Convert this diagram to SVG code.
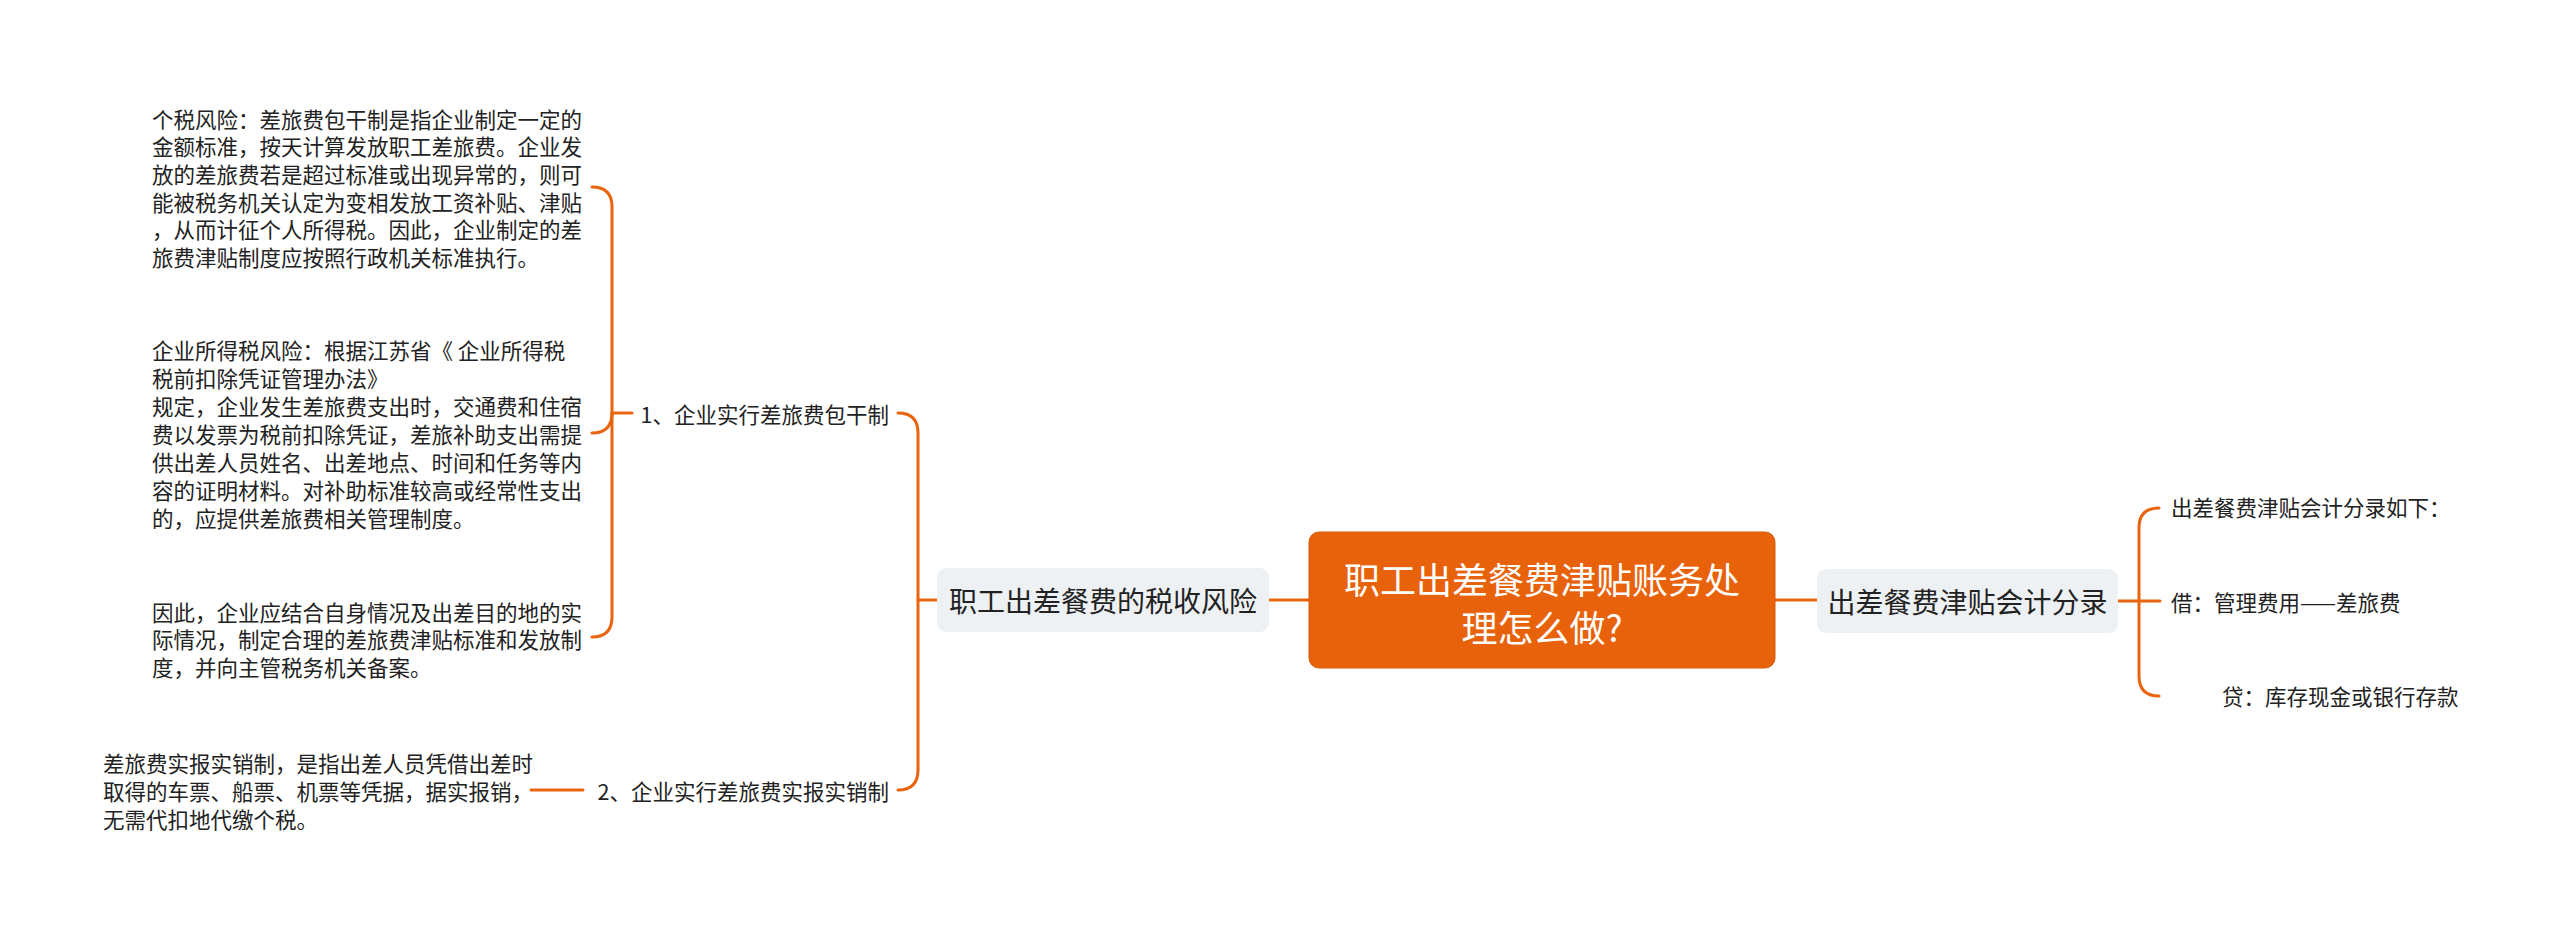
<svg xmlns="http://www.w3.org/2000/svg" width="2560" height="934" viewBox="0 0 2560 934">
<style>
.t{font-family:"Noto Sans CJK SC","Noto Sans",sans-serif;fill:#222;dominant-baseline:central}
.s{font-size:21.5px}
.m{font-size:28px}
.r{font-size:36px;fill:#fff}
.c{fill:none;stroke:#E8640E;stroke-width:3;stroke-linecap:round}
.g{fill:#EEF1F4}
</style>
<rect width="2560" height="934" fill="#fff"/>
<g id="connectors">
<path class="c" d="M1269 600H1309"/>
<path class="c" d="M1775 600H1817"/>
<path class="c" d="M937 600H918"/>
<path class="c" d="M898 413Q918 413 918 433V770Q918 790 898 790"/>
<path class="c" d="M592 187Q612 187 612 207V617Q612 637 592 637"/>
<path class="c" d="M592 433Q612 433 612 413"/>
<path class="c" d="M612 413H632"/>
<path class="c" d="M531 790H583"/>
<path class="c" d="M2118 601H2160"/>
<path class="c" d="M2159 508Q2139 508 2139 528V676Q2139 696 2159 696"/>
</g>
<g id="root">
<rect x="1309" y="532" width="466" height="136" rx="10" fill="#E8620B" stroke="#D95A08" stroke-width="1"/>
<text class="t r" x="1542" y="578" text-anchor="middle">职工出差餐费津贴账务处</text>
<text class="t r" x="1542" y="626" text-anchor="middle">理怎么做?</text>
</g>
<g id="n-left">
<rect class="g" x="937" y="568" width="332" height="64" rx="9"/>
<text class="t m" x="1103" y="600" text-anchor="middle">职工出差餐费的税收风险</text>
</g>
<g id="n-right">
<rect class="g" x="1817" y="569" width="301" height="64" rx="9"/>
<text class="t m" x="1967.5" y="601" text-anchor="middle">出差餐费津贴会计分录</text>
</g>
<g id="n-1">
<text class="t s" x="889" y="413" text-anchor="end">1、企业实行差旅费包干制</text>
</g>
<g id="n-2">
<text class="t s" x="889" y="790" text-anchor="end">2、企业实行差旅费实报实销制</text>
</g>
<g id="n-1a">
<text class="t s" x="152" y="118">个税风险：差旅费包干制是指企业制定一定的</text>
<text class="t s" x="152" y="145.7">金额标准，按天计算发放职工差旅费。企业发</text>
<text class="t s" x="152" y="173.4">放的差旅费若是超过标准或出现异常的，则可</text>
<text class="t s" x="152" y="201.1">能被税务机关认定为变相发放工资补贴、津贴</text>
<text class="t s" x="152" y="228.8">，从而计征个人所得税。因此，企业制定的差</text>
<text class="t s" x="152" y="256.5">旅费津贴制度应按照行政机关标准执行。</text>
</g>
<g id="n-1b">
<text class="t s" x="152" y="349">企业所得税风险：根据江苏省《 企业所得税</text>
<text class="t s" x="152" y="377">税前扣除凭证管理办法》</text>
<text class="t s" x="152" y="405">规定，企业发生差旅费支出时，交通费和住宿</text>
<text class="t s" x="152" y="433">费以发票为税前扣除凭证，差旅补助支出需提</text>
<text class="t s" x="152" y="461">供出差人员姓名、出差地点、时间和任务等内</text>
<text class="t s" x="152" y="489">容的证明材料。对补助标准较高或经常性支出</text>
<text class="t s" x="152" y="517">的，应提供差旅费相关管理制度。</text>
</g>
<g id="n-1c">
<text class="t s" x="152" y="611">因此，企业应结合自身情况及出差目的地的实</text>
<text class="t s" x="152" y="638.5">际情况，制定合理的差旅费津贴标准和发放制</text>
<text class="t s" x="152" y="666">度，并向主管税务机关备案。</text>
</g>
<g id="n-2a">
<text class="t s" x="103" y="762">差旅费实报实销制，是指出差人员凭借出差时</text>
<text class="t s" x="103" y="790">取得的车票、船票、机票等凭据，据实报销，</text>
<text class="t s" x="103" y="818">无需代扣地代缴个税。</text>
</g>
<g id="n-r1">
<text class="t s" x="2171" y="506">出差餐费津贴会计分录如下：</text>
</g>
<g id="n-r2">
<text class="t s" x="2171" y="601">借：管理费用——差旅费</text>
</g>
<g id="n-r3">
<text class="t s" x="2222" y="695">贷：库存现金或银行存款</text>
</g>
</svg>
